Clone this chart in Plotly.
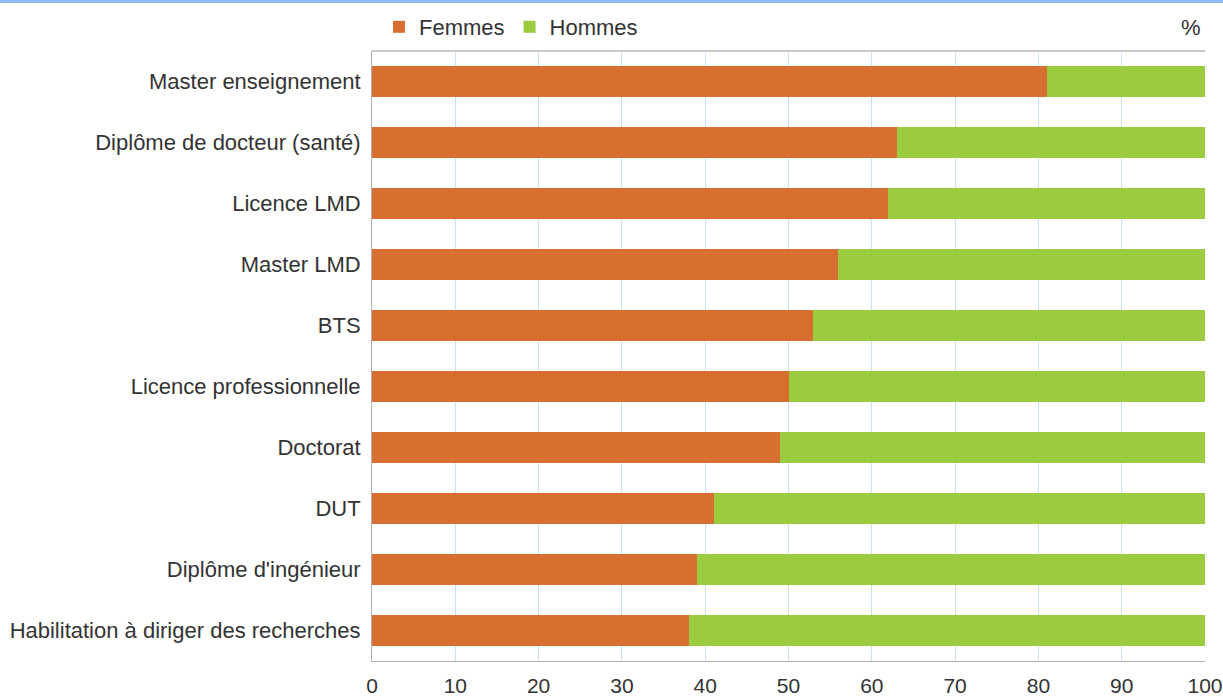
import plotly.graph_objects as go

categories = [
    "Master enseignement",
    "Diplôme de docteur (santé)",
    "Licence LMD",
    "Master LMD",
    "BTS",
    "Licence professionnelle",
    "Doctorat",
    "DUT",
    "Diplôme d'ingénieur",
    "Habilitation à diriger des recherches",
]
femmes = [81, 63, 62, 56, 53, 50, 49, 41, 39, 38]
hommes = [100 - f for f in femmes]
x_ticks = [0, 10, 20, 30, 40, 50, 60, 70, 80, 90, 100]

ORANGE = "#d66f30"
GREEN = "#9bcc3f"
FONT = "Liberation Sans, Arial, sans-serif"

fig = go.Figure()
fig.add_trace(go.Bar(y=categories, x=femmes, name="Femmes", orientation="h",
                     marker=dict(color=ORANGE, line=dict(width=0))))
fig.add_trace(go.Bar(y=categories, x=hommes, name="Hommes", orientation="h",
                     marker=dict(color=GREEN, line=dict(width=0))))

W, H = 1223, 700
L, R, T, B = 372, 18, 51, 39
pw, ph = W - L - R, H - T - B

fig.update_layout(
    width=W, height=H,
    barmode="stack", bargap=0.5,
    margin=dict(l=L, r=R, t=T, b=B, autoexpand=False),
    paper_bgcolor="white", plot_bgcolor="white",
    font=dict(family=FONT, color="#333333"),
    showlegend=True,
    legend=dict(orientation="h", x=(379 - L) / pw, y=1 + (T - 27) / ph,
                xanchor="left", yanchor="middle",
                font=dict(size=22, color="#333333"),
                itemwidth=30, traceorder="normal", bgcolor="rgba(0,0,0,0)"),
    xaxis=dict(range=[0, 100], tickvals=x_ticks, ticktext=[str(v) for v in x_ticks],
               showgrid=True, gridcolor="#c8e1f5", gridwidth=1, automargin=False,
               zeroline=False, showline=True, linecolor="#b0b0b0", linewidth=1,
               mirror=False, ticks="outside", ticklen=6, tickcolor="rgba(0,0,0,0)",
               ticklabeloverflow="allow",
               tickfont=dict(size=21, color="#333333"), fixedrange=True),
    yaxis=dict(categoryorder="array", categoryarray=categories, autorange="reversed",
               showgrid=False, zeroline=False, showline=True, linecolor="#b0b0b0",
               linewidth=1, ticks="outside", ticklen=6, tickcolor="rgba(0,0,0,0)",
               automargin=False,
               tickfont=dict(size=22, color="#333333"), fixedrange=True),
    shapes=[
        dict(type="line", xref="paper", yref="paper", x0=(50 - 0) / 100, x1=0.5, y0=0, y1=1,
             line=dict(color="#ffffff", width=2), layer="between"),
        dict(type="line", xref="x", yref="paper", x0=50, x1=50, y0=0, y1=1,
             line=dict(color="#555555", width=1, dash="dot"), layer="between"),
        dict(type="line", xref="paper", yref="paper", x0=0, x1=1, y0=1, y1=1,
             line=dict(color="#c8c8c8", width=2), layer="below"),
        dict(type="rect", xref="paper", yref="paper",
             x0=-L / pw, x1=(W - L) / pw, y0=1 + (T - 3) / ph, y1=1 + T / ph,
             fillcolor="#8fbcf0", line=dict(width=0), layer="above"),
    ],
    annotations=[
        dict(text="%", xref="paper", yref="paper", x=(1203 - L) / pw, y=1 + (T - 27) / ph,
             xanchor="right", yanchor="middle", showarrow=False,
             font=dict(size=22, color="#333333")),
    ],
)

fig.write_html("out.html", config={"displayModeBar": False},
               post_script="document.body.style.margin='0';")
